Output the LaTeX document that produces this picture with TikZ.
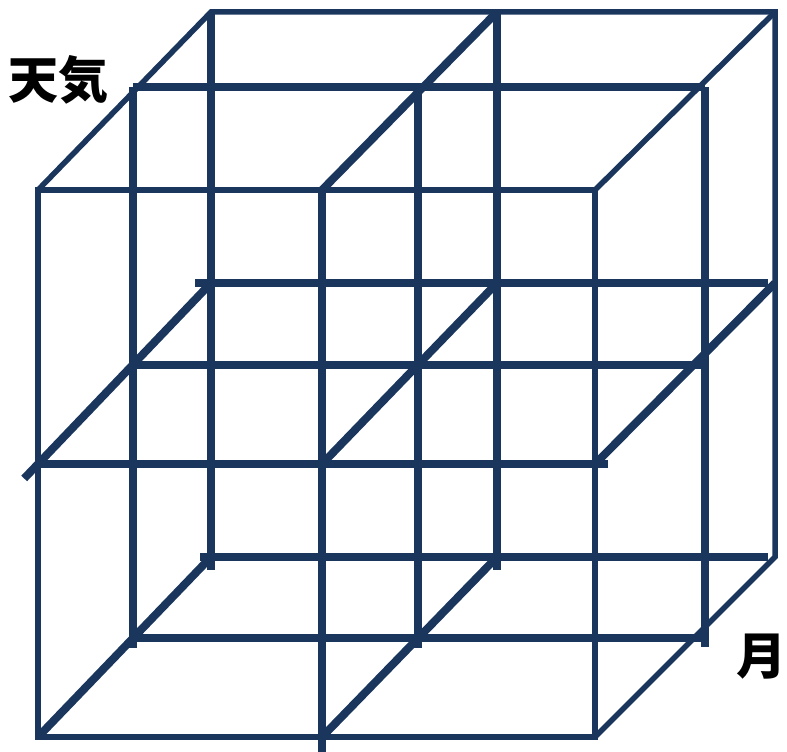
\documentclass[tikz,border=0pt]{standalone}
\usepackage{fontspec}
\newfontfamily\jpfont{Noto Sans CJK JP}
\definecolor{cubeblue}{HTML}{1A365D}

\begin{document}
\begin{tikzpicture}[
    x=1pt, y=-1pt,
    edge/.style={draw=cubeblue, line width=5.5pt},
    slice/.style={draw=cubeblue, line width=8pt},
    axislabel/.style={font=\jpfont\bfseries\fontsize{50}{50}\selectfont, text=black, inner sep=0pt}
]
\useasboundingbox (0,0) rectangle (787,752);
\coordinate (flt) at (38,190);
\coordinate (fmt) at (322,190);
\coordinate (frt) at (595,190);
\coordinate (flm) at (38,464);
\coordinate (fmm) at (322,464);
\coordinate (frm) at (595,464);
\coordinate (flb) at (38,737);
\coordinate (fmb) at (322,737);
\coordinate (frb) at (595,737);
\coordinate (clt) at (133,87);
\coordinate (cmt) at (418,87);
\coordinate (crt) at (705,87);
\coordinate (clm) at (133,365);
\coordinate (cmm) at (418,365);
\coordinate (crm) at (705,365);
\coordinate (clb) at (133,638);
\coordinate (cmb) at (418,638);
\coordinate (crb) at (705,638);
\coordinate (blt) at (211,12);
\coordinate (bmt) at (497,12);
\coordinate (brt) at (775,12);
\coordinate (blm) at (211,283);
\coordinate (bmm) at (497,283);
\coordinate (brm) at (775,283);
\coordinate (blb) at (211,557);
\coordinate (bmb) at (497,557);
\coordinate (brb) at (775,557);
\draw[edge] (flt) -- (frt) -- (frb) -- (flb) -- cycle;
\draw[edge] (flt) -- (blt) -- (brt) -- (brb) -- (frb);
\draw[edge] (frt) -- (brt);
\draw[slice] (clt) -- (crt);
\draw[slice] (clm) -- (crm);
\draw[slice] (clb) -- (crb);
\draw[slice, shorten >=-10pt] (clt) -- (clb);
\draw[slice, shorten >=-10pt] (cmt) -- (cmb);
\draw[slice, shorten >=-9pt] (crt) -- (crb);
\draw[slice, shorten >=-13pt] (blt) -- (blb);
\draw[slice, shorten >=-13pt] (bmt) -- (bmb);
\draw[slice, shorten <=-16pt, shorten >=7pt] (blm) -- (brm);
\draw[slice, shorten <=-11pt, shorten >=7pt] (blb) -- (brb);
\draw[slice, shorten >=-13pt] (flm) -- (frm);
\draw[slice, shorten >=-15pt] (fmt) -- (fmb);
\draw[slice] (fmt) -- (bmt);
\draw[slice, shorten <=-20pt] (flm) -- (blm);
\draw[slice] (fmm) -- (bmm);
\draw[slice] (frm) -- (brm);
\draw[slice] (flb) -- (blb);
\draw[slice] (fmb) -- (bmb);
\node[axislabel] (weather) at (59,80) {天気};
\node[axislabel] (month) at (761,657) {月};
\end{tikzpicture}
\end{document}
